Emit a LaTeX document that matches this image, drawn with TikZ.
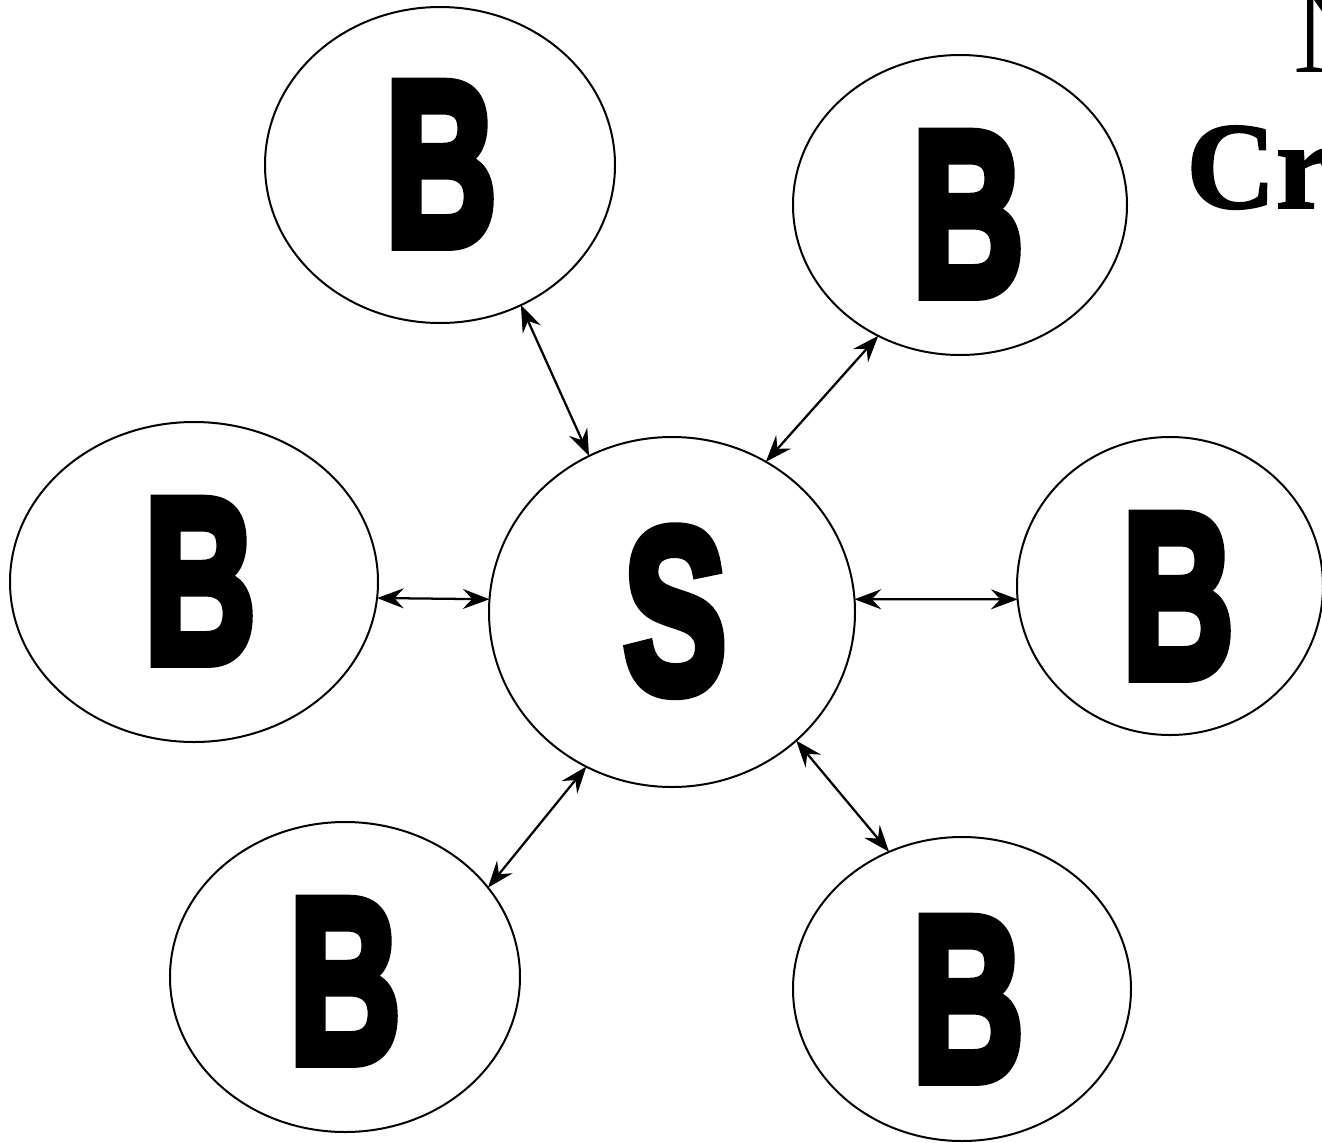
\documentclass[tikz,border=0pt]{standalone}
\usepackage{fontspec}
\setmainfont{Liberation Serif}
\newfontfamily\headbold{Liberation Serif Bold}[FakeBold=1.5]
\newfontfamily\heavyfont{Liberation Sans Bold}[FakeBold=5]
\usetikzlibrary{shapes.geometric,arrows.meta}

\tikzset{
  bubble/.style={draw,ellipse,line width=1.5pt,inner sep=0pt,outer sep=0pt},
  glyph/.style={anchor=base,inner sep=0pt,font=\fontsize{176}{180}\selectfont\heavyfont},
  link/.style={{Stealth[length=20pt,width=15pt,inset=7pt]}-{Stealth[length=20pt,width=15pt,inset=7pt]},line width=1.7pt},
}

\begin{document}
\begin{tikzpicture}[x=0.75pt,y=0.75pt,yscale=-1,xscale=1]
\useasboundingbox (0,0) rectangle (1322,1143);

%Shape: Ellipse
\node [bubble,minimum width=262.5pt,minimum height=237pt] (tl) at (440,165) {};
\node [bubble,minimum width=250.5pt,minimum height=225pt] (tr) at (960,205) {};
\node [bubble,minimum width=276pt,minimum height=240pt] (l) at (194,582) {};
\node [bubble,minimum width=274.5pt,minimum height=262.5pt] (s) at (672,612) {};
\node [bubble,minimum width=229.5pt,minimum height=223.5pt] (r) at (1170,586) {};
\node [bubble,minimum width=262.5pt,minimum height=232.5pt] (bl) at (345,977) {};
\node [bubble,minimum width=253.5pt,minimum height=228pt] (br) at (962,989) {};

% Text Node
\node [glyph] (tlB) at (441,245) {\scalebox{0.66}[1]{B}};
\node [glyph] (trB) at (968,295) {\scalebox{0.66}[1]{B}};
\node [glyph] (lB) at (200,662) {\scalebox{0.66}[1]{B}};
\node [glyph] (sS) at (675,692) {\scalebox{0.66}[1]{S}};
\node [glyph] (rB) at (1178,677) {\scalebox{0.66}[1]{B}};
\node [glyph] (blB) at (345,1062) {\scalebox{0.66}[1]{B}};
\node [glyph] (brB) at (968,1080) {\scalebox{0.66}[1]{B}};

%Straight Lines
\draw [link] (tl.-60.5) -- (s.118);
\draw [link] (tr.238) -- (s.58);
\draw [link] (l.-5.5) -- (s.176);
\draw [link] (s.4) -- (r.185);
\draw [link] (s.241.4) -- (bl.32.7);
\draw [link] (s.-46) -- (br.118.5);

% Text Node
\node [anchor=base west,inner sep=0pt,font=\fontsize{93}{95}\selectfont] (title) at (1293,72) {N};
\node [anchor=base west,inner sep=0pt,font=\fontsize{93}{95}\selectfont\headbold] (subtitle) at (1186,208) {Cre};

\end{tikzpicture}
\end{document}
